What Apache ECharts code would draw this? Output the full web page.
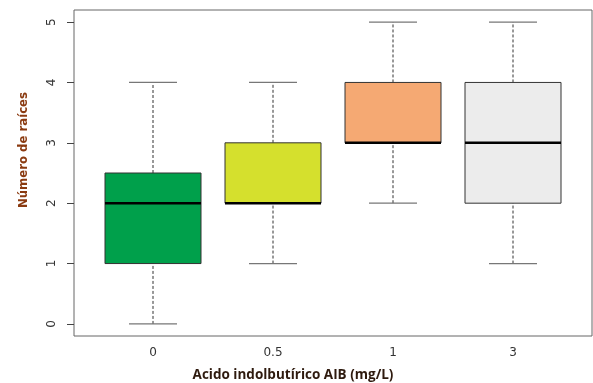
<!DOCTYPE html>
<html>
<head>
<meta charset="utf-8">
<script src="https://cdn.jsdelivr.net/npm/echarts@6/dist/echarts.min.js"></script>
<style>
  html, body { margin: 0; padding: 0; background: #fff; }
  #chart { width: 593px; height: 383px; }
</style>
</head>
<body>
<div id="chart"></div>
<script>
  // categorias (dosis AIB)
  const categories = ['0', '0.5', '1', '3'];
  // estadisticos de cada caja: min, Q1, mediana, Q3, max
  const mins = [0, 1, 2, 1];
  const q1s = [1, 2, 3, 2];
  const medians = [2, 2, 3, 3];
  const q3s = [2.5, 3, 4, 4];
  const maxs = [4, 4, 5, 5];
  const yTicks = [0, 1, 2, 3, 4, 5];

  const boxColors = ['#00a04b', '#d5e02d', '#f5a973', '#ececec'];

  const boxData = categories.map((c, i) => [i, mins[i], q1s[i], medians[i], q3s[i], maxs[i]]);

  const chart = echarts.init(document.getElementById('chart'));

  const renderBox = (params, api) => {
    const i = api.value(0);
    const band = api.size([1, 0])[0];
    const half = band * 0.4;
    const capHalf = band * 0.2;
    const pMin = api.coord([i, api.value(1)]);
    const pQ1 = api.coord([i, api.value(2)]);
    const pMed = api.coord([i, api.value(3)]);
    const pQ3 = api.coord([i, api.value(4)]);
    const pMax = api.coord([i, api.value(5)]);
    const cx = pMed[0];
    const dashed = { stroke: '#333', lineWidth: 1, lineDash: [3, 2] };
    const cap = { stroke: '#777', lineWidth: 1.2 };
    return {
      type: 'group',
      children: [
        { type: 'line', shape: { x1: cx, y1: pQ3[1], x2: cx, y2: pMax[1] }, style: dashed },
        { type: 'line', shape: { x1: cx, y1: pMin[1], x2: cx, y2: pQ1[1] }, style: dashed },
        { type: 'line', shape: { x1: cx - capHalf, y1: pMax[1], x2: cx + capHalf, y2: pMax[1] }, style: cap },
        { type: 'line', shape: { x1: cx - capHalf, y1: pMin[1], x2: cx + capHalf, y2: pMin[1] }, style: cap },
        {
          type: 'rect',
          shape: { x: cx - half, y: pQ3[1], width: half * 2, height: pQ1[1] - pQ3[1] },
          style: { fill: boxColors[i], stroke: '#333', lineWidth: 1 },
        },
        { type: 'line', shape: { x1: cx - half, y1: pMed[1], x2: cx + half, y2: pMed[1] }, style: { stroke: '#000', lineWidth: 2.5 } },
      ],
    };
  };

  const option = {
    animation: false,
    grid: [
      // marco exterior
      { left: 74, right: 1, top: 10, bottom: 47, show: true, borderColor: '#666', borderWidth: 1, backgroundColor: 'transparent' },
      // area de datos
      { left: 93, right: 20, top: 10, bottom: 47 },
    ],
    xAxis: [
      { gridIndex: 0, type: 'value', show: false },
      {
        gridIndex: 1,
        type: 'category',
        data: categories,
        boundaryGap: true,
        axisLine: { show: false },
        axisTick: { alignWithLabel: true, length: 6, lineStyle: { color: '#444' } },
        axisLabel: { color: '#333', fontSize: 12, margin: 11, fontFamily: 'DejaVu Sans' },
      },
    ],
    yAxis: [
      { gridIndex: 0, type: 'value', show: false },
      {
        gridIndex: 1,
        type: 'value',
        min: -0.2,
        max: 5.2,
        offset: 19,
        splitLine: { show: false },
        axisLine: { show: false },
        axisTick: { show: true, length: 7, customValues: yTicks, lineStyle: { color: '#444' } },
        axisLabel: { rotate: 90, color: '#333', fontSize: 12, margin: 16, customValues: yTicks, fontFamily: 'DejaVu Sans' },
      },
    ],
    graphic: [
      {
        type: 'text',
        x: 24,
        y: 150,
        rotation: Math.PI / 2,
        style: {
          text: 'Número de raíces',
          fill: '#8a3a10',
          font: 'bold 13px "Liberation Sans Narrow", "DejaVu Sans Condensed", sans-serif',
          align: 'center',
          verticalAlign: 'middle',
        },
      },
      {
        type: 'text',
        x: 293,
        y: 375,
        style: {
          text: 'Acido indolbutírico AIB (mg/L)',
          fill: '#2e1a0e',
          font: 'bold 13.5px "Open Sans", "DejaVu Sans", sans-serif',
          align: 'center',
          verticalAlign: 'middle',
        },
      },
    ],
    series: [
      {
        type: 'custom',
        xAxisIndex: 1,
        yAxisIndex: 1,
        renderItem: renderBox,
        encode: { x: 0, y: [1, 2, 3, 4, 5] },
        data: boxData,
      },
    ],
  };

  chart.setOption(option);
</script>
</body>
</html>
